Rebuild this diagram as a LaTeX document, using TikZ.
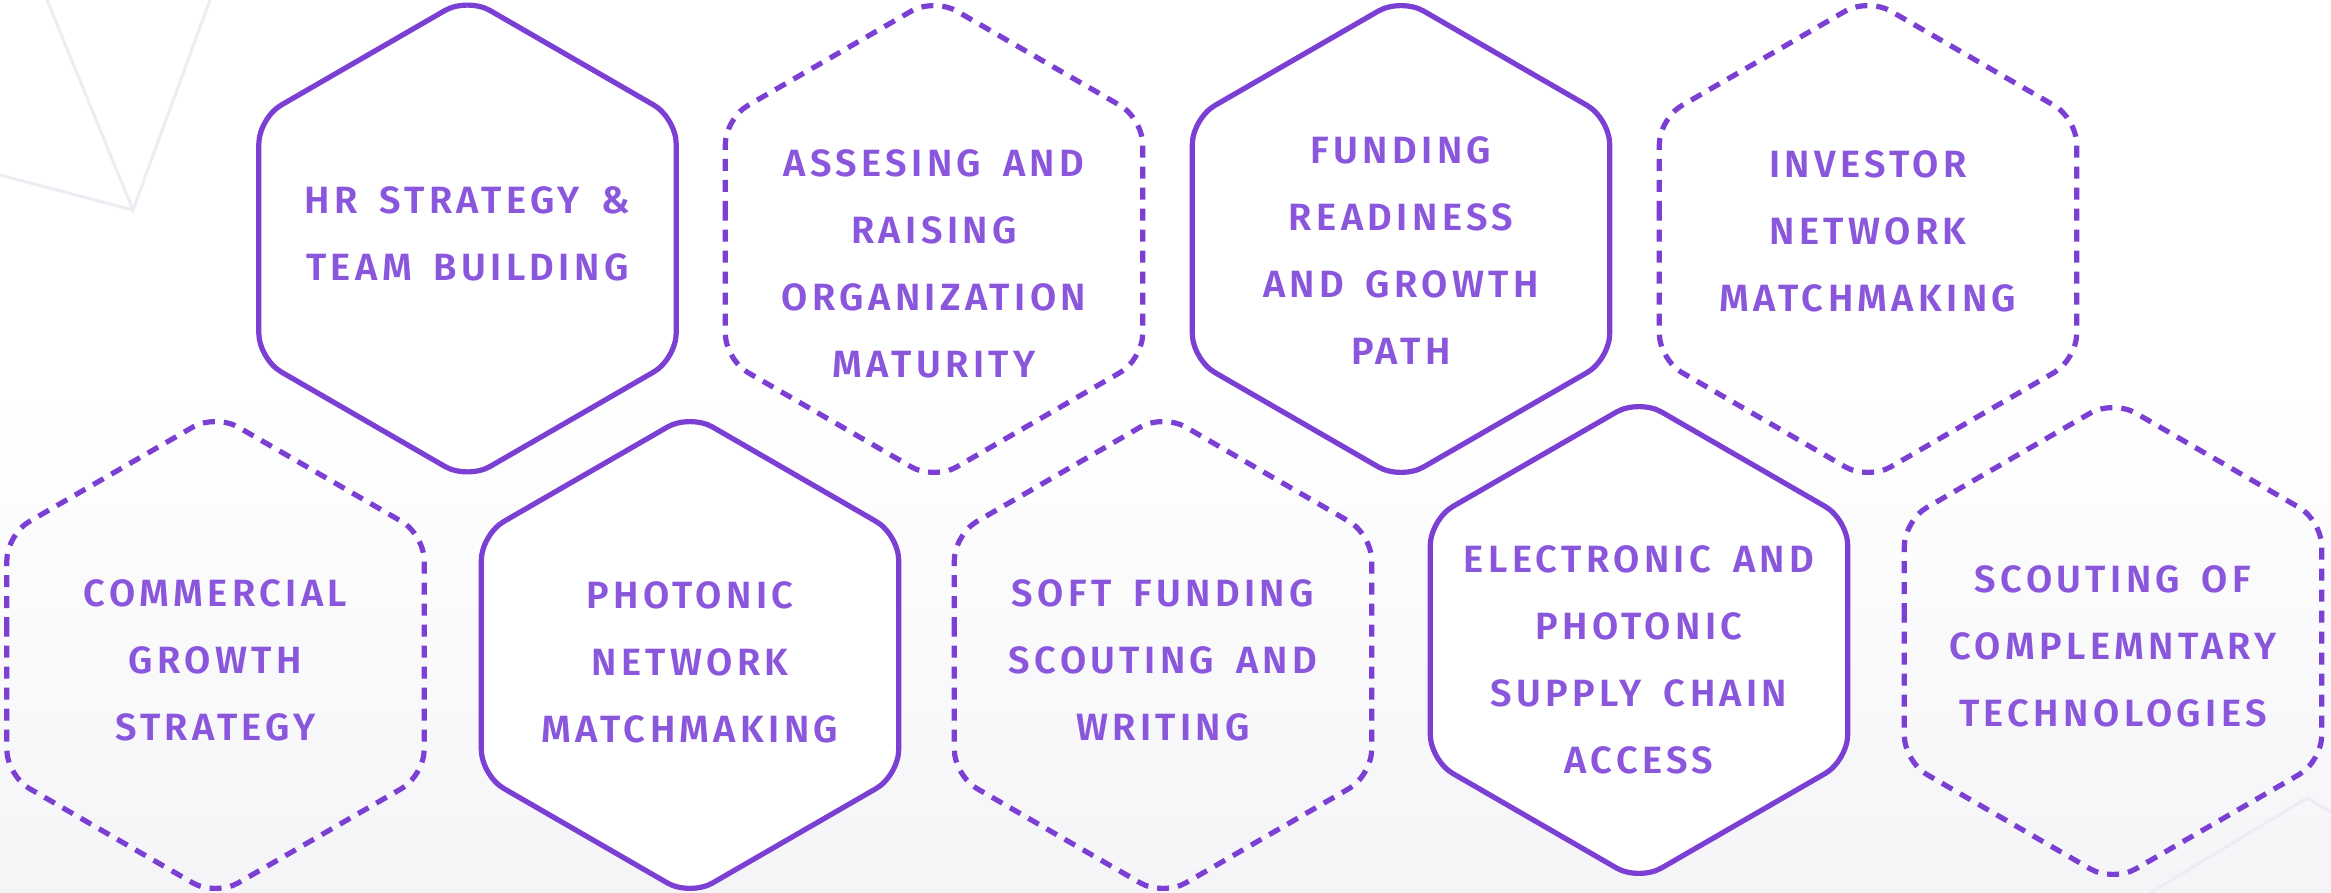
\documentclass[tikz,border=0pt]{standalone}
\usepackage{fontspec}
\newfontfamily\hexfont{Fira Sans SemiBold}[LetterSpace=11.5, WordSpace=1.6]
\definecolor{hexline}{HTML}{7B3FD3}
\definecolor{hexink}{HTML}{8A56DC}
\definecolor{bggray}{HTML}{F5F5F8}
\definecolor{bgline}{HTML}{ECECF3}
\tikzset{
  hexsolid/.style={draw=hexline, line width=2.6pt, fill=white, rounded corners=13pt},
  hexdash/.style={draw=hexline, line width=2.6pt, rounded corners=13pt, dash pattern=on 6pt off 4.5pt},
  hextext/.style={text=hexink, align=center, font=\hexfont\fontsize{19}{33.5}\selectfont, inner sep=0pt},
  bgstroke/.style={draw=bgline, line width=1.5pt}
}
\newcommand\hexshape[3]{%
  \path[#1] ({#2-208.7},#3) -- ({#2-208.7},{#3-120.5}) -- (#2,{#3-241}) -- ({#2+208.7},{#3-120.5}) -- ({#2+208.7},{#3+120.5}) -- (#2,{#3+241}) -- ({#2-208.7},{#3+120.5}) -- cycle;}
\begin{document}
\begin{tikzpicture}[x=0.5pt,y=-0.5pt]
  \useasboundingbox (0,0) rectangle (2331,893);
  \fill[white] (0,0) rectangle (2331,893);
  \shade[top color=white, bottom color=bggray] (0,380) rectangle (2331,893);
  % faint background lines
  \coordinate (la) at (47,0);
  \coordinate (lb) at (210,0);
  \coordinate (lc) at (0,175);
  \coordinate (lv) at (133,210);
  \draw[bgstroke] (la) -- (lv) -- (lb);
  \draw[bgstroke] (lc) -- (lv);
  \coordinate (ra) at (2150,893);
  \coordinate (rv) at (2307,798);
  \coordinate (rb) at (2331,812);
  \draw[bgstroke] (ra) -- (rv) -- (rb);
  % hexagons
  \hexshape{hexsolid}{467.5}{238.5}
  \hexshape{hexdash}{934}{239}
  \hexshape{hexsolid}{1401}{239}
  \hexshape{hexdash}{1868}{239}
  \hexshape{hexdash}{215.5}{655}
  \hexshape{hexsolid}{690}{655}
  \hexshape{hexdash}{1163}{655}
  \hexshape{hexsolid}{1639}{640}
  \hexshape{hexdash}{2113}{641}
  % texts
  \node[hextext] (t1) at (467.5,234) {HR STRATEGY \&\\TEAM BUILDING};
  \node[hextext] (t2) at (934,264) {ASSESING AND\\RAISING\\ORGANIZATION\\MATURITY};
  \node[hextext] (t3) at (1401,251) {FUNDING\\READINESS\\AND GROWTH\\PATH};
  \node[hextext] (t4) at (1868,231) {INVESTOR\\NETWORK\\MATCHMAKING};
  \node[hextext] (t5) at (215.5,660) {COMMERCIAL\\GROWTH\\STRATEGY};
  \node[hextext] (t6) at (690,662) {PHOTONIC\\NETWORK\\MATCHMAKING};
  \node[hextext] (t7) at (1163,660) {SOFT FUNDING\\SCOUTING AND\\WRITING};
  \node[hextext] (t8) at (1639,660) {ELECTRONIC AND\\PHOTONIC\\SUPPLY CHAIN\\ACCESS};
  \node[hextext] (t9) at (2113,646) {SCOUTING OF\\COMPLEMNTARY\\TECHNOLOGIES};
\end{tikzpicture}
\end{document}
